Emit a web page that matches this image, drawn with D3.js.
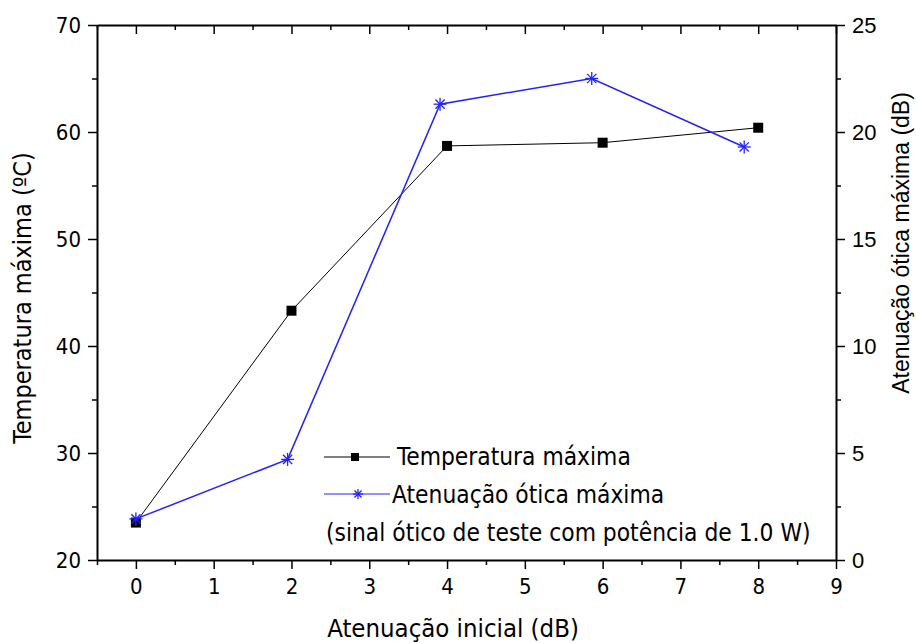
<!DOCTYPE html>
<html>
<head>
<meta charset="utf-8">
<script src="https://cdn.jsdelivr.net/npm/d3@7"></script>
<style>
  body { margin: 0; background: #fff; }
  svg { display: block; }
</style>
</head>
<body>
<div id="chart"></div>
<script>
// dados
const tempX = [0, 2, 4, 6, 8];
const tempY = [23.5, 43.3, 58.7, 59.0, 60.4];
const atenX = [0, 1.95, 3.91, 5.86, 7.82];
const atenY = [1.92, 4.7, 21.3, 22.5, 19.3];

const xTicks = [0, 1, 2, 3, 4, 5, 6, 7, 8, 9];
const yLeftTicks = [20, 30, 40, 50, 60, 70];
const yRightTicks = [0, 5, 10, 15, 20, 25];

const legendLabels = ["Temperatura máxima", "Atenuação ótica máxima"];
const legendNote = "(sinal ótico de teste com potência de 1.0 W)";

const width = 916, height = 643;
const m = { left: 97, right: 80, top: 25, bottom: 83 };
const x0 = m.left, x1 = width - m.right, y0 = m.top, y1 = height - m.bottom;

const fontA = "'Liberation Sans', Arial, sans-serif";
const fontT = "'DejaVu Sans Condensed', 'Liberation Sans', sans-serif";
const blue = "#2222ff";

const x = d3.scaleLinear().domain([-0.5, 9]).range([x0, x1]);
const yL = d3.scaleLinear().domain([20, 70]).range([y1, y0]);
const yR = d3.scaleLinear().domain([0, 25]).range([y1, y0]);

const svg = d3.select("#chart").append("svg")
  .attr("width", width).attr("height", height);

// eixos
const minorX = d3.range(-0.5, 9.01, 0.5).filter(v => !xTicks.includes(v));
const minorL = d3.range(25, 70, 10);
const minorR = d3.range(2.5, 25, 5);

function styleAxis(g) {
  g.selectAll("path").attr("stroke", "#000").attr("stroke-width", 2);
  g.selectAll("line").attr("stroke", "#000").attr("stroke-width", 1.5);
}

const gx = svg.append("g").attr("transform", `translate(0,${y1})`)
  .call(d3.axisBottom(x).tickValues(xTicks).tickSize(9).tickSizeOuter(0).tickPadding(9));
gx.call(styleAxis);
gx.selectAll("text").attr("font-family", fontT).attr("font-size", 22).attr("fill", "#000");
svg.append("g").attr("transform", `translate(0,${y1})`)
  .call(d3.axisBottom(x).tickValues(minorX).tickSize(5).tickFormat(""))
  .call(styleAxis).select("path").remove();

const gt = svg.append("g").attr("transform", `translate(0,${y0})`)
  .call(d3.axisTop(x).tickValues(xTicks).tickSize(-9).tickSizeOuter(0).tickFormat(""));
gt.call(styleAxis);
svg.append("g").attr("transform", `translate(0,${y0})`)
  .call(d3.axisTop(x).tickValues(minorX).tickSize(-5).tickFormat(""))
  .call(styleAxis).select("path").remove();

const gl = svg.append("g").attr("transform", `translate(${x0},0)`)
  .call(d3.axisLeft(yL).tickValues(yLeftTicks).tickSize(9).tickSizeOuter(0).tickPadding(7));
gl.call(styleAxis);
gl.selectAll("text").attr("font-family", fontT).attr("font-size", 22).attr("fill", "#000");
svg.append("g").attr("transform", `translate(${x0},0)`)
  .call(d3.axisLeft(yL).tickValues(minorL).tickSize(5).tickFormat(""))
  .call(styleAxis).select("path").remove();

const gr = svg.append("g").attr("transform", `translate(${x1},0)`)
  .call(d3.axisRight(yR).tickValues(yRightTicks).tickSize(9).tickSizeOuter(0).tickPadding(7));
gr.call(styleAxis);
gr.selectAll("text").attr("font-family", fontA).attr("font-size", 22).attr("fill", "#000");
svg.append("g").attr("transform", `translate(${x1},0)`)
  .call(d3.axisRight(yR).tickValues(minorR).tickSize(5).tickFormat(""))
  .call(styleAxis).select("path").remove();

// títulos dos eixos
svg.append("text")
  .attr("x", 453).attr("y", 637)
  .attr("text-anchor", "middle")
  .attr("font-family", fontT).attr("font-size", 25.5)
  .text("Atenuação inicial (dB)");

svg.append("text")
  .attr("transform", `translate(31,298) rotate(-90)`)
  .attr("text-anchor", "middle")
  .attr("font-family", fontT).attr("font-size", 25)
  .text("Temperatura máxima (ºC)");

svg.append("text")
  .attr("transform", `translate(909,243) rotate(-90)`)
  .attr("text-anchor", "middle")
  .attr("font-family", fontA).attr("font-size", 23)
  .text("Atenuação ótica máxima (dB)");

// marcadores
function star(g, cx, cy, r) {
  [0, 45, 90, 135].forEach(a => {
    const t = a * Math.PI / 180;
    g.append("line")
      .attr("x1", cx - r * Math.cos(t)).attr("y1", cy - r * Math.sin(t))
      .attr("x2", cx + r * Math.cos(t)).attr("y2", cy + r * Math.sin(t))
      .attr("stroke", blue).attr("stroke-width", 1.3);
  });
}

// série preta
const tempData = tempX.map((v, i) => [v, tempY[i]]);
svg.append("path").datum(tempData)
  .attr("fill", "none").attr("stroke", "#000").attr("stroke-width", 1)
  .attr("d", d3.line().x(d => x(d[0])).y(d => yL(d[1])));
svg.append("g").selectAll("rect").data(tempData).join("rect")
  .attr("x", d => x(d[0]) - 5).attr("y", d => yL(d[1]) - 5)
  .attr("width", 10).attr("height", 10).attr("fill", "#000");

// série azul
const atenData = atenX.map((v, i) => [v, atenY[i]]);
svg.append("path").datum(atenData)
  .attr("fill", "none").attr("stroke", blue).attr("stroke-width", 1.5)
  .attr("d", d3.line().x(d => x(d[0])).y(d => yR(d[1])));
const gs = svg.append("g");
atenData.forEach(d => star(gs, x(d[0]), yR(d[1]), 6.5));

// legenda
const lg = svg.append("g");
lg.append("line").attr("x1", 324).attr("x2", 390).attr("y1", 457).attr("y2", 457)
  .attr("stroke", "#000").attr("stroke-width", 1);
lg.append("rect").attr("x", 351).attr("y", 453).attr("width", 8).attr("height", 8).attr("fill", "#000");
lg.append("text").attr("x", 397).attr("y", 465)
  .attr("font-family", fontT).attr("font-size", 24.3).text(legendLabels[0]);

lg.append("line").attr("x1", 324).attr("x2", 390).attr("y1", 494).attr("y2", 494)
  .attr("stroke", blue).attr("stroke-width", 1);
star(lg, 358, 494, 5);
lg.append("text").attr("x", 392).attr("y", 503)
  .attr("font-family", fontT).attr("font-size", 24.3).text(legendLabels[1]);

lg.append("text").attr("x", 326).attr("y", 541)
  .attr("font-family", fontT).attr("font-size", 24.3).text(legendNote);
</script>
</body>
</html>
